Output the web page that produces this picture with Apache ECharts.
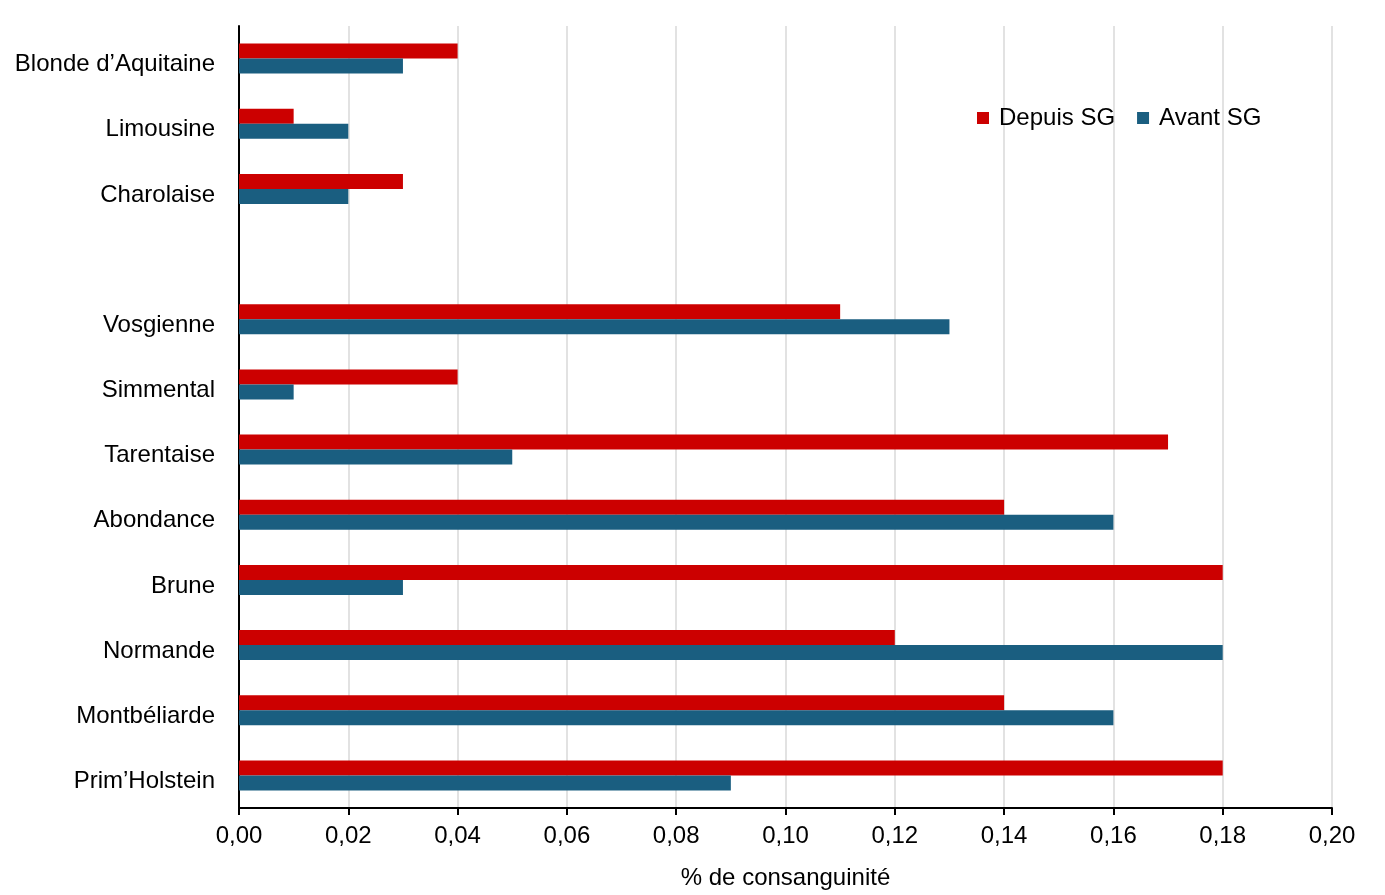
<!DOCTYPE html>
<html>
<head>
<meta charset="utf-8">
<script src="https://cdn.jsdelivr.net/npm/echarts@6/dist/echarts.min.js"></script>
<style>
  html, body { margin: 0; padding: 0; background: #fff; }
  #chart { width: 1385px; height: 895px; }
</style>
</head>
<body>
<div id="chart"></div>
<script>
// races, de bas en haut (axe catégoriel horizontal)
var races = ['Prim\u2019Holstein', 'Montbéliarde', 'Normande', 'Brune', 'Abondance', 'Tarentaise',
  'Simmental', 'Vosgienne', '', 'Charolaise', 'Limousine', 'Blonde d\u2019Aquitaine']
var depuisSG = [0.18, 0.14, 0.12, 0.18, 0.14, 0.17, 0.04, 0.11, null, 0.03, 0.01, 0.04]
var avantSG = [0.09, 0.16, 0.18, 0.03, 0.16, 0.05, 0.01, 0.13, null, 0.02, 0.02, 0.03]
var xTicks = [0, 0.02, 0.04, 0.06, 0.08, 0.10, 0.12, 0.14, 0.16, 0.18, 0.20]

var font = 'Liberation Sans, Arial, sans-serif'
var chart = echarts.init(document.getElementById('chart'))

chart.setOption({
  animation: false,
  textStyle: { fontFamily: font },
  grid: { left: 239, right: 53, top: 26, bottom: 86, containLabel: false },
  legend: {
    data: ['Depuis SG', 'Avant SG'],
    left: 972,
    top: 101,
    itemWidth: 12,
    itemHeight: 12,
    itemGap: 22,
    icon: 'rect',
    textStyle: { fontSize: 24, color: '#000', fontFamily: font, padding: [0, 0, 0, 5] }
  },
  xAxis: {
    type: 'value',
    min: xTicks[0],
    max: xTicks[xTicks.length - 1],
    interval: 0.02,
    name: '% de consanguinité',
    nameLocation: 'middle',
    nameGap: 58,
    nameTextStyle: { fontSize: 24, color: '#000', fontFamily: font },
    axisLine: { show: true, lineStyle: { color: '#000', width: 2 } },
    axisTick: { show: true, length: 7, lineStyle: { color: '#000', width: 2 } },
    axisLabel: {
      fontSize: 24, color: '#000', margin: 16,
      formatter: function (v) { return v.toFixed(2).replace('.', ',') }
    },
    splitLine: { show: true, lineStyle: { color: '#d9d9d9', width: 1.5 } }
  },
  yAxis: {
    type: 'category',
    data: races,
    axisLine: { show: true, lineStyle: { color: '#000', width: 2 } },
    axisTick: { show: false },
    axisLabel: {
      margin: 24,
      // léger décalage vers le bas comme dans l'original
      formatter: function (v) { return '{a|' + v + '}' },
      rich: { a: { fontSize: 24, color: '#000', fontFamily: font, padding: [12, 0, 0, 0] } }
    },
    splitLine: { show: false }
  },
  series: [
    {
      name: 'Depuis SG',
      type: 'bar',
      data: depuisSG,
      barWidth: 15,
      barGap: 0,
      itemStyle: { color: '#cc0000' }
    },
    {
      name: 'Avant SG',
      type: 'bar',
      data: avantSG,
      barWidth: 15,
      barGap: 0,
      itemStyle: { color: '#1a5e80' }
    }
  ]
})
</script>
</body>
</html>
